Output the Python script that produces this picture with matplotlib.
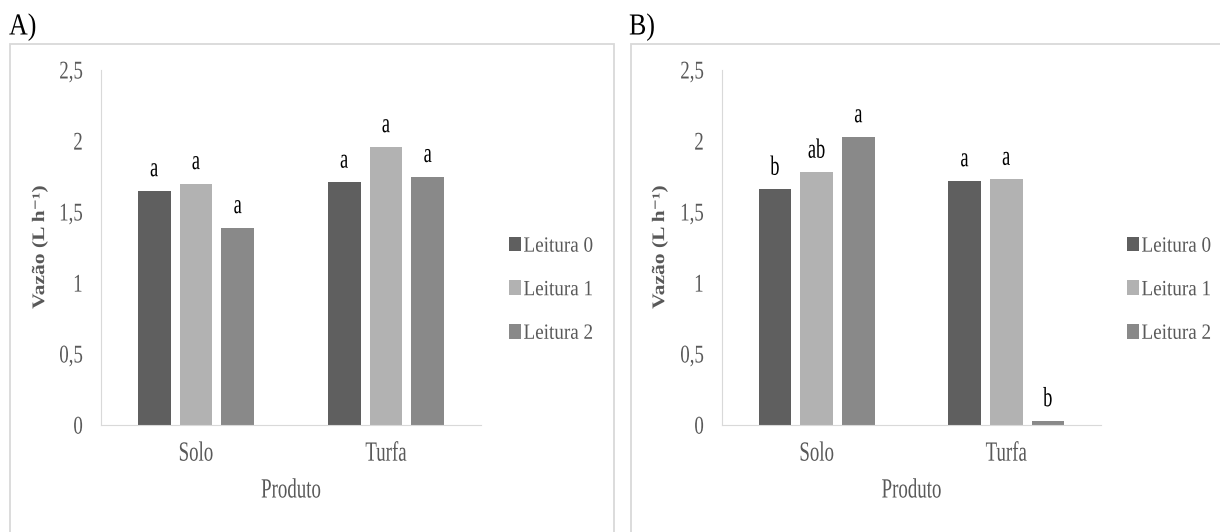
import numpy as np
import matplotlib
matplotlib.use("Agg")
import matplotlib.pyplot as plt
from matplotlib.patches import Rectangle
from matplotlib.patheffects import AbstractPathEffect
from matplotlib.transforms import Affine2D

plt.rcParams["font.family"] = ["Liberation Serif", "DejaVu Serif"]

categories = ["Solo", "Turfa"]
series_names = ["Leitura 0", "Leitura 1", "Leitura 2"]

values_a = {
    "Leitura 0": [1.65, 1.71],
    "Leitura 1": [1.70, 1.96],
    "Leitura 2": [1.39, 1.75],
}
letters_a = {
    "Leitura 0": ["a", "a"],
    "Leitura 1": ["a", "a"],
    "Leitura 2": ["a", "a"],
}

values_b = {
    "Leitura 0": [1.66, 1.72],
    "Leitura 1": [1.78, 1.73],
    "Leitura 2": [2.03, 0.03],
}
letters_b = {
    "Leitura 0": ["b", "a"],
    "Leitura 1": ["ab", "a"],
    "Leitura 2": ["a", "b"],
}

COLORS = ["#5f5f5f", "#b2b2b2", "#898989"]
TEXT = "#595959"
GRID = "#d9d9d9"

W, H = 1220, 532
fig = plt.figure(figsize=(W / 100, H / 100), dpi=100)


class Squash(AbstractPathEffect):
    """Scale text glyphs in their own frame (condensed look)."""

    def __init__(self, sx=1.0, sy=1.0, anchor="center"):
        super().__init__()
        self.sx, self.sy, self.anchor = sx, sy, anchor

    def draw_path(self, renderer, gc, tpath, affine, rgbFace=None):
        v = tpath.vertices
        if len(v) == 0:
            return
        x0, x1 = v[:, 0].min(), v[:, 0].max()
        y0, y1 = v[:, 1].min(), v[:, 1].max()
        cx = {"left": 0.0, "center": (x0 + x1) / 2, "right": x1}[self.anchor]
        cy = (y0 + y1) / 2
        t = (Affine2D().translate(-cx, -cy).scale(self.sx, self.sy)
             .translate(cx, cy) + affine)
        renderer.draw_path(gc, tpath, t, rgbFace)


def px(x0, y0, x1, y1):
    # pixel box (top-left origin) -> figure fraction [l, b, w, h]
    return [x0 / W, 1 - y1 / H, (x1 - x0) / W, (y1 - y0) / H]


def panel(box, axrect, values, letters, tag, tag_x, ylab_x, leg_x):
    l, b, w, h = px(*box)
    fig.patches.append(Rectangle((l, b), w, h, transform=fig.transFigure,
                                 fill=False, edgecolor=GRID, linewidth=1.3))
    fig.text(tag_x / W, 1 - 27 / H, tag, fontsize=22, color="black",
             ha="left", va="center", path_effects=[Squash(sx=0.85, anchor="left")])

    ax = fig.add_axes(px(*axrect))
    x = np.arange(len(categories))
    width = 0.172
    step = 0.22
    for i, name in enumerate(series_names):
        pos = x + (i - 1) * step
        bars = ax.bar(pos, values[name], width, color=COLORS[i], label=name)
        for bar, lab in zip(bars, letters[name]):
            ax.text(bar.get_x() + bar.get_width() / 2, bar.get_height() + 0.06,
                    lab, ha="center", va="bottom", fontsize=20, color="black",
                    path_effects=[Squash(sx=0.66)])

    ax.set_xlim(-0.5, 1.5)
    ax.set_ylim(0, 2.5)
    ax.set_yticks([0, 0.5, 1, 1.5, 2, 2.5])
    ax.set_yticklabels(["0", "0,5", "1", "1,5", "2", "2,5"])
    ax.set_xticks(x)
    ax.set_xticklabels(categories)
    for s in ["top", "right"]:
        ax.spines[s].set_visible(False)
    ax.spines["left"].set_color(GRID)
    ax.spines["bottom"].set_color(GRID)
    ax.tick_params(axis="y", length=0, pad=13, labelsize=17, labelcolor=TEXT)
    ax.tick_params(axis="x", length=0, pad=12, labelsize=20, labelcolor=TEXT)
    for t in ax.get_yticklabels():
        t.set_path_effects([Squash(sx=0.8, sy=1.08, anchor="right")])
    for t in ax.get_xticklabels():
        t.set_path_effects([Squash(sx=0.68)])

    ax.set_xlabel("Produto", fontsize=20, color=TEXT, va="center",
                  path_effects=[Squash(sx=0.68)])
    ax.xaxis.set_label_coords((axrect[0] + axrect[2]) / 2 / W, 1 - 491 / H,
                              transform=fig.transFigure)
    ax.set_ylabel("Vazão (L h⁻¹)", fontsize=15.5,
                  color=TEXT, fontweight="bold", va="center",
                  path_effects=[Squash(sy=0.82)])
    ax.yaxis.set_label_coords(ylab_x / W, 1 - 247 / H,
                              transform=fig.transFigure)

    leg = ax.legend(loc="center left", bbox_to_anchor=(leg_x / W, 1 - 290 / H),
                    bbox_transform=fig.transFigure, frameon=False,
                    fontsize=14.5, handlelength=0.62, handleheight=0.75,
                    handletextpad=0.1, labelspacing=1.2, borderpad=0,
                    borderaxespad=0, labelcolor=TEXT)
    for t in leg.get_texts():
        t.set_path_effects([Squash(sx=0.95, sy=1.08, anchor="left")])
    return ax


panel((10, 44, 614, 560), (101, 70, 481, 425), values_a, letters_a,
      "A)", 9, 40, 509)
panel((631, 44, 1240, 560), (722, 70, 1101, 425), values_b, letters_b,
      "B)", 629, 660, 1127)

fig.savefig("out.png", dpi=100)
